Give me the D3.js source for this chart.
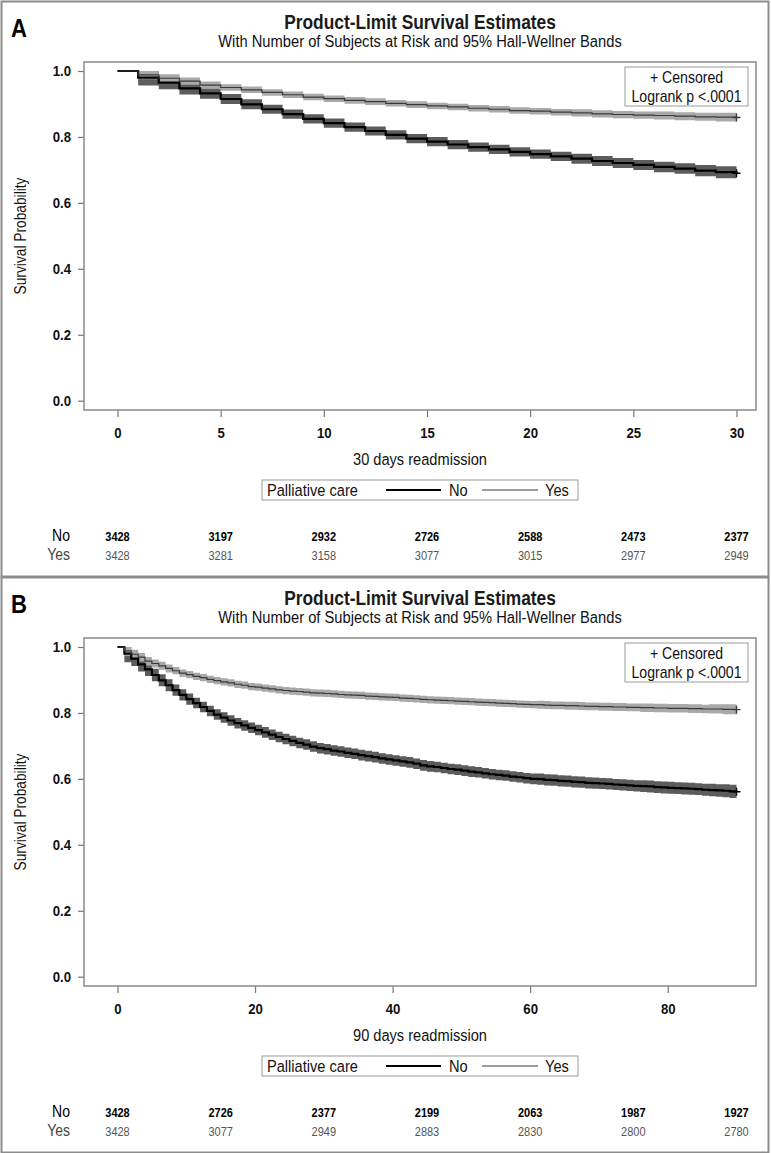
<!DOCTYPE html>
<html><head><meta charset="utf-8">
<script src="https://cdn.jsdelivr.net/npm/d3@7"></script>
<style>body{margin:0;background:#fff}</style>
</head><body><svg id="c" width="771" height="1153"></svg>
<script>
// ---------- DATA ----------
const groups = ["No", "Yes"];
const legendTitle = "Palliative care";
const titleText = "Product-Limit Survival Estimates";
const subtitleText = "With Number of Subjects at Risk and 95% Hall-Wellner Bands";
const yTickValues = [0.0, 0.2, 0.4, 0.6, 0.8, 1.0];

// Panel A: 30-day readmission, survival estimate for day interval [d, d+1)
const xTicksA = [0, 5, 10, 15, 20, 25, 30];
const riskDaysA = [0, 5, 10, 15, 20, 25, 30];
const riskNoA = [3428, 3197, 2932, 2726, 2588, 2473, 2377];
const riskYesA = [3428, 3281, 3158, 3077, 3015, 2977, 2949];
const survNoA = [1.000, 0.980, 0.965, 0.947, 0.932, 0.915, 0.899, 0.884, 0.869, 0.855, 0.842, 0.830, 0.818, 0.806, 0.795, 0.786, 0.777, 0.769, 0.762, 0.755, 0.748, 0.741, 0.734, 0.727, 0.721, 0.715, 0.709, 0.704, 0.698, 0.693, 0.690];
const survYesA = [1.000, 0.988, 0.978, 0.969, 0.957, 0.950, 0.943, 0.935, 0.928, 0.921, 0.916, 0.911, 0.907, 0.902, 0.898, 0.894, 0.891, 0.887, 0.884, 0.880, 0.878, 0.875, 0.873, 0.870, 0.868, 0.866, 0.865, 0.863, 0.861, 0.860, 0.859];
const bandNoA = [0, 0.024, 0.020, 0.018, 0.016, 0.015, 0.015, 0.014, 0.014, 0.014, 0.014, 0.014, 0.014, 0.014, 0.014, 0.014, 0.014, 0.014, 0.014, 0.014, 0.014, 0.014, 0.015, 0.015, 0.015, 0.015, 0.016, 0.016, 0.017, 0.018, 0.018];
const bandYesA = [0, 0.013, 0.012, 0.011, 0.011, 0.010, 0.010, 0.010, 0.010, 0.010, 0.010, 0.010, 0.010, 0.010, 0.010, 0.010, 0.010, 0.010, 0.010, 0.010, 0.010, 0.010, 0.011, 0.011, 0.011, 0.011, 0.012, 0.012, 0.012, 0.013, 0.014];

// Panel B: 90-day readmission
const xTicksB = [0, 20, 40, 60, 80];
const riskDaysB = [0, 15, 30, 45, 60, 75, 90];
const riskNoB = [3428, 2726, 2377, 2199, 2063, 1987, 1927];
const riskYesB = [3428, 3077, 2949, 2883, 2830, 2800, 2780];
const survNoB = [1.000, 0.980, 0.965, 0.947, 0.932, 0.915, 0.899, 0.884, 0.869, 0.855, 0.842, 0.830, 0.818, 0.806, 0.795, 0.786, 0.777, 0.769, 0.762, 0.755, 0.748, 0.741, 0.734, 0.727, 0.721, 0.715, 0.709, 0.704, 0.698, 0.693, 0.690,
  0.686, 0.683, 0.679, 0.676, 0.672, 0.669, 0.666, 0.662, 0.659, 0.656,
  0.653, 0.650, 0.646, 0.641, 0.638, 0.636, 0.633, 0.630, 0.628, 0.625,
  0.622, 0.620, 0.617, 0.614, 0.612, 0.610, 0.607, 0.605, 0.602, 0.600,
  0.599, 0.597, 0.596, 0.594, 0.593, 0.591, 0.590, 0.588, 0.587, 0.586,
  0.585, 0.583, 0.582, 0.580, 0.579, 0.578, 0.577, 0.575, 0.574, 0.573,
  0.572, 0.571, 0.570, 0.569, 0.567, 0.566, 0.565, 0.564, 0.562, 0.561];
const survYesB = [1.000, 0.988, 0.978, 0.969, 0.957, 0.950, 0.943, 0.935, 0.928, 0.921, 0.916, 0.911, 0.907, 0.902, 0.898, 0.894, 0.891, 0.887, 0.884, 0.880, 0.878, 0.875, 0.873, 0.870, 0.868, 0.866, 0.865, 0.863, 0.861, 0.860, 0.859,
  0.858, 0.856, 0.855, 0.854, 0.853, 0.851, 0.850, 0.849, 0.848, 0.847,
  0.845, 0.844, 0.843, 0.841, 0.840, 0.839, 0.838, 0.837, 0.836, 0.835,
  0.834, 0.833, 0.832, 0.831, 0.830, 0.829, 0.828, 0.827, 0.826, 0.825,
  0.825, 0.824, 0.823, 0.823, 0.822, 0.822, 0.821, 0.820, 0.820, 0.819,
  0.819, 0.818, 0.818, 0.817, 0.817, 0.816, 0.816, 0.815, 0.815, 0.814,
  0.814, 0.814, 0.813, 0.813, 0.812, 0.812, 0.812, 0.811, 0.811, 0.810];
const bandNoB = [0, 0.026, 0.023, 0.021, 0.020, 0.019, 0.018, 0.018, 0.017, 0.017, 0.017,
  0.016, 0.016, 0.016, 0.016, 0.016, 0.016, 0.016, 0.016, 0.016, 0.016,
  0.016, 0.016, 0.016, 0.016, 0.016, 0.016, 0.016, 0.016, 0.016, 0.016,
  0.016, 0.016, 0.016, 0.016, 0.016, 0.016, 0.016, 0.016, 0.016, 0.016,
  0.016, 0.016, 0.016, 0.016, 0.016, 0.016, 0.016, 0.016, 0.016, 0.016,
  0.016, 0.016, 0.016, 0.016, 0.016, 0.016, 0.016, 0.016, 0.016, 0.016,
  0.017, 0.017, 0.017, 0.017, 0.017, 0.017, 0.017, 0.017, 0.017, 0.017,
  0.017, 0.017, 0.017, 0.017, 0.017, 0.018, 0.018, 0.018, 0.018, 0.018,
  0.018, 0.018, 0.018, 0.018, 0.018, 0.019, 0.019, 0.020, 0.020, 0.021];
const bandYesB = [0, 0.015, 0.014, 0.013, 0.013, 0.012, 0.012, 0.012, 0.011, 0.011, 0.011,
  0.011, 0.011, 0.011, 0.011, 0.011, 0.011, 0.011, 0.011, 0.011, 0.011,
  0.011, 0.011, 0.011, 0.011, 0.011, 0.011, 0.011, 0.011, 0.011, 0.011,
  0.011, 0.011, 0.011, 0.011, 0.011, 0.011, 0.011, 0.011, 0.011, 0.011,
  0.011, 0.011, 0.011, 0.011, 0.011, 0.011, 0.011, 0.011, 0.011, 0.011,
  0.011, 0.011, 0.011, 0.011, 0.011, 0.011, 0.011, 0.011, 0.011, 0.011,
  0.012, 0.012, 0.012, 0.012, 0.012, 0.012, 0.012, 0.012, 0.012, 0.012,
  0.012, 0.012, 0.012, 0.012, 0.012, 0.013, 0.013, 0.013, 0.013, 0.013,
  0.013, 0.013, 0.013, 0.013, 0.013, 0.014, 0.014, 0.015, 0.015, 0.016];

// ---------- PANEL CONFIG ----------
const panels = [
  {letter: "A", top: 0, height: 575, xMax: 30, xTicks: xTicksA, xLabel: "30 days readmission",
   riskDays: riskDaysA, risk: [riskNoA, riskYesA], surv: [survNoA, survYesA], band: [bandNoA, bandYesA]},
  {letter: "B", top: 576, height: 575, xMax: 90, xTicks: xTicksB, xLabel: "90 days readmission",
   riskDays: riskDaysB, risk: [riskNoB, riskYesB], surv: [survNoB, survYesB], band: [bandNoB, bandYesB]}
];

const FONT = "'Liberation Sans',Arial,sans-serif";
const svg = d3.select("#c");

const styles = [
  {line: "#000", lw: 2.2, band: "#5c5c5c"},
  {line: "#3a3a3a", lw: 1.2, band: "#a9a9a9"}
];

// condensed text helper (horizontal compression mimics the narrow face)
function txt(g, x, y, s, o) {
  const sx = o.sx || 0.88;
  return g.append("text")
    .attr("transform", `translate(${x},${y})` + (o.rot ? ` rotate(${o.rot})` : "") + ` scale(${sx},1)`)
    .attr("text-anchor", o.anchor || "start")
    .attr("font-family", FONT).attr("font-size", o.size)
    .attr("font-weight", o.bold ? "bold" : "normal")
    .attr("fill", o.fill || "#111").text(s);
}

panels.forEach(p => {
  const g = svg.append("g").attr("transform", `translate(0,${p.top})`);
  g.append("rect").attr("x", 1.5).attr("y", 1.5).attr("width", 767).attr("height", p.height)
    .attr("fill", "none").attr("stroke", "#8c8c8c").attr("stroke-width", 2);

  txt(g, 11, 37, p.letter, {size: 26, bold: true, sx: 0.85, fill: "#000"});
  txt(g, 420, 29, titleText, {size: 19.5, bold: true, anchor: "middle", sx: 0.89, fill: "#1a1a1a"});
  txt(g, 420, 47, subtitleText, {size: 16, anchor: "middle", sx: 0.92});

  const fx0 = 84, fx1 = 756, fy0 = 62, fy1 = 410;
  const x = d3.scaleLinear().domain([0, p.xMax]).range([117.5, 736.5]);
  const y = d3.scaleLinear().domain([0, 1]).range([400.7, 71]);

  // y axis
  const ya = g.append("g").attr("transform", `translate(${fx0},0)`)
    .call(d3.axisLeft(y).tickValues(yTickValues).tickFormat(d3.format(".1f")).tickSize(6).tickPadding(4));
  ya.select(".domain").remove();
  ya.selectAll("line").attr("stroke", "#777").attr("stroke-width", 1.2);
  ya.selectAll("text").attr("font-family", FONT).attr("font-weight", "bold").attr("font-size", 15.5).attr("fill", "#111")
    .attr("transform", "scale(0.85,1)").attr("x", -13 / 0.85);

  // x axis
  const xa = g.append("g").attr("transform", `translate(0,${fy1})`)
    .call(d3.axisBottom(x).tickValues(p.xTicks).tickFormat(d3.format("d")).tickSize(7).tickPadding(10));
  xa.select(".domain").remove();
  xa.selectAll("line").attr("stroke", "#777").attr("stroke-width", 1.2);
  xa.selectAll("text").attr("font-family", FONT).attr("font-weight", "bold").attr("font-size", 15.5).attr("fill", "#111")
    .attr("transform", "scale(0.85,1)");

  txt(g, 420, 465, p.xLabel, {size: 17, anchor: "middle", sx: 0.86});
  txt(g, 26, 236, "Survival Probability", {size: 16, anchor: "middle", rot: -90, sx: 0.86});

  // curves
  const cg = g.append("g");
  const areaGen = d3.area().x(d => x(d.t)).y0(d => y(Math.max(0, d.s - d.h))).y1(d => y(Math.min(1, d.s + d.h)))
    .curve(d3.curveStepAfter);
  const lineGen = d3.line().x(d => x(d.t)).y(d => y(d.s)).curve(d3.curveStepAfter);
  const series = p.surv.map((arr, k) => arr.map((s, i) => ({t: i, s: s, h: p.band[k][i]})));
  series.forEach((pts, k) => {
    cg.append("path").datum(pts.filter(d => d.t >= 1)).attr("d", areaGen)
      .attr("fill", styles[k].band).attr("stroke", "none");
  });
  series.forEach((pts, k) => {
    cg.append("path").datum(pts).attr("d", lineGen)
      .attr("fill", "none").attr("stroke", styles[k].line).attr("stroke-width", styles[k].lw);
    const last = pts[pts.length - 1];
    const cx = x(last.t), cy = y(last.s);
    cg.append("path").attr("d", `M${cx - 4},${cy}H${cx + 4}M${cx},${cy - 4}V${cy + 4}`)
      .attr("stroke", styles[k].line).attr("stroke-width", 1.4);
  });

  // frame
  g.append("rect").attr("x", fx0).attr("y", fy0).attr("width", fx1 - fx0).attr("height", fy1 - fy0)
    .attr("fill", "none").attr("stroke", "#8a8a8a").attr("stroke-width", 1.5);

  // inset legend
  g.append("rect").attr("x", 625).attr("y", 67).attr("width", 123).attr("height", 39)
    .attr("fill", "#fff").attr("stroke", "#9a9a9a").attr("stroke-width", 1);
  txt(g, 686.5, 83, "+ Censored", {size: 16, anchor: "middle", sx: 0.88});
  txt(g, 686.5, 102, "Logrank p <.0001", {size: 16, anchor: "middle", sx: 0.88});

  // bottom legend
  g.append("rect").attr("x", 262).attr("y", 480).attr("width", 316).attr("height", 20)
    .attr("fill", "none").attr("stroke", "#9a9a9a").attr("stroke-width", 1);
  txt(g, 267, 496, legendTitle, {size: 17, sx: 0.86});
  const legItems = [{x1: 386, x2: 441, tx: 449}, {x1: 482, x2: 538, tx: 545}];
  groups.forEach((gr, k) => {
    g.append("line").attr("x1", legItems[k].x1).attr("x2", legItems[k].x2).attr("y1", 490).attr("y2", 490)
      .attr("stroke", styles[k].line).attr("stroke-width", styles[k].lw);
    txt(g, legItems[k].tx, 496, gr, {size: 17, sx: 0.86});
  });

  // at-risk table
  const xr = d3.scaleLinear().domain([0, p.xMax]).range([117.5, 736.5]);
  groups.forEach((gr, k) => {
    const ry = k === 0 ? 541 : 560;
    txt(g, 70, ry, gr, {size: 16.5, anchor: "end", sx: 0.85, fill: k === 0 ? "#000" : "#444"});
    p.riskDays.forEach((d, i) => {
      txt(g, xr(d), ry, p.risk[k][i], {size: 12.5, anchor: "middle", bold: k === 0, sx: 0.88,
        fill: k === 0 ? "#000" : "#555"});
    });
  });
});
</script></body></html>
